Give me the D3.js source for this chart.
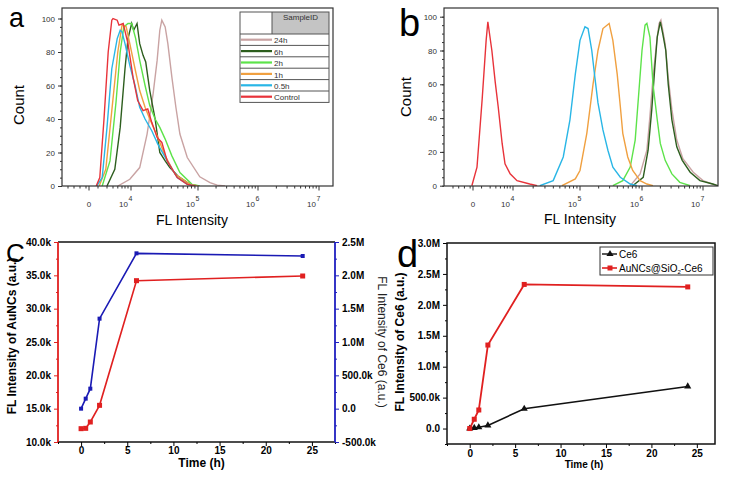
<!DOCTYPE html>
<html>
<head>
<meta charset="utf-8">
<script src="https://cdn.jsdelivr.net/npm/d3@7"></script>
<style>
body { margin: 0; background: #fff; }
svg text { font-family: "Liberation Sans", Arial, sans-serif; }
</style>
</head>
<body>
<script>
// ---- histogram data, panel a: [log10 intensity, count]
var aControl = [[3.42,0],[3.48,5],[3.55,40],[3.62,80],[3.68,99],[3.70,100],[3.77,99],[3.80,96],[3.87,97],[3.95,85],[4.03,65],[4.10,51],[4.18,45],[4.25,46],[4.31,38],[4.39,29],[4.46,26],[4.54,15],[4.69,5],[4.84,1],[4.96,0]];
var aHalf = [[3.43,0],[3.52,5],[3.60,35],[3.68,70],[3.77,88],[3.82,93],[3.85,92],[3.90,85],[3.98,72],[4.06,60],[4.13,47],[4.21,40],[4.31,33],[4.40,25],[4.54,15],[4.69,5],[4.84,1],[4.96,0]];
var aOne = [[3.47,0],[3.58,10],[3.68,45],[3.78,80],[3.85,96],[3.92,95],[3.98,85],[4.06,70],[4.13,57],[4.21,47],[4.28,40],[4.39,30],[4.51,18],[4.66,7],[4.88,1],[5.0,0]];
var aTwo = [[3.52,0],[3.65,15],[3.75,50],[3.82,80],[3.88,95],[3.95,97],[4.01,97],[4.07,88],[4.13,75],[4.21,60],[4.28,48],[4.36,40],[4.43,35],[4.51,28],[4.61,18],[4.73,8],[4.91,1],[5.03,0]];
var aSix = [[3.60,0],[3.73,10],[3.82,35],[3.90,70],[3.95,88],[4.01,97],[4.04,93],[4.09,97],[4.13,85],[4.18,78],[4.22,74],[4.28,57],[4.36,40],[4.43,20],[4.51,15],[4.58,11],[4.70,6],[4.88,1],[5.0,0]];
var aDay = [[3.78,0],[3.98,4],[4.13,11],[4.24,31],[4.33,55],[4.39,75],[4.43,93],[4.46,99],[4.51,95],[4.55,85],[4.61,65],[4.67,47],[4.73,31],[4.84,17],[5.03,5.5],[5.2,2],[5.32,0.5],[5.45,0]];

// ---- histogram data, panel b
var bControl = [[3.28,0],[3.37,11],[3.46,51],[3.53,86],[3.56,97],[3.63,80],[3.69,61],[3.74,47],[3.81,25],[3.86,13],[3.95,7],[4.06,3],[4.25,1],[4.36,0]];
var bHalf = [[4.40,0],[4.60,3],[4.75,17],[4.85,39],[4.93,66],[5.00,86],[5.08,94],[5.13,93],[5.19,80],[5.24,64],[5.29,49],[5.37,33],[5.45,21],[5.53,11],[5.65,5],[5.81,1],[5.92,0]];
var bOne = [[4.73,0],[4.93,4],[5.00,9],[5.11,31],[5.21,60],[5.29,80],[5.37,93],[5.47,96],[5.53,86],[5.60,66],[5.65,47],[5.69,31],[5.77,17],[5.85,9],[5.97,3],[6.08,1],[6.18,0]];
var bTwo = [[5.53,0],[5.69,3],[5.81,11],[5.89,27],[5.94,51],[6.00,80],[6.05,95],[6.08,96],[6.13,88],[6.18,60],[6.25,39],[6.30,25],[6.38,15],[6.49,7],[6.62,2],[6.79,0]];
var bSix = [[5.85,0],[6.02,5],[6.10,21],[6.16,45],[6.21,70],[6.25,88],[6.30,97],[6.34,90],[6.39,80],[6.43,60],[6.49,39],[6.57,23],[6.66,15],[6.79,8],[6.95,3],[7.16,1],[7.25,0]];
var bDay = [[5.81,0],[5.97,7],[6.08,21],[6.13,41],[6.18,64],[6.25,88],[6.28,96],[6.31,98],[6.38,84],[6.43,64],[6.49,45],[6.57,27],[6.67,16],[6.84,8],[7.00,3],[7.23,0]];

var sampleIds = ["24h", "6h", "2h", "1h", "0.5h", "Control"];
var sampleColors = ["#c9a3a3", "#2d5e1e", "#5de34a", "#f0a040", "#29b6e6", "#e8333a"];

// ---- time course data, panels c and d
var hours = [0, 0.5, 1, 2, 6, 24];
var auncsFL = [12000, 12050, 13000, 15500, 34200, 34900];
var ce6NanoFL = [0, 150000, 300000, 1350000, 2330000, 2290000];
var ce6FreeFL = [0, 10000, 20000, 50000, 320000, 680000];

var svg = d3.select("body").append("svg")
    .attr("width", 729).attr("height", 478);
svg.append("rect").attr("width", 729).attr("height", 478).attr("fill", "#fff");

var fmtK = function(v) {
    if (v === 0) return "0.0";
    if (Math.abs(v) >= 1e6) return (v / 1e6).toFixed(1) + "M";
    return (v / 1e3).toFixed(1) + "k";
};

// histogram panel
function histPanel(o) {
    var g = svg.append("g");
    var x = d3.scaleLinear().domain([3.3, 4, 5, 6, 7]).range(o.xr);
    var y = d3.scaleLinear().domain([0, 100]).range(o.yr);
    var L = o.box[0], R = o.box[1], T = o.box[2], B = o.box[3];

    g.append("clipPath").attr("id", o.id).append("rect")
        .attr("x", L).attr("y", T).attr("width", R - L).attr("height", B - T);

    var line = d3.line().x(function(d) { return x(d[0]); }).y(function(d) { return y(d[1]); });
    g.append("g").attr("clip-path", "url(#" + o.id + ")")
        .selectAll("path").data(o.curves).enter().append("path")
        .attr("d", function(d) { return line(d); })
        .attr("fill", "none")
        .attr("stroke", function(d, i) { return sampleColors[i]; })
        .attr("stroke-width", 1.4);

    g.append("rect").attr("x", L).attr("y", T).attr("width", R - L).attr("height", B - T)
        .attr("fill", "none").attr("stroke", "#333").attr("stroke-width", 1.2);

    // y axis
    var yAx = g.append("g").attr("transform", "translate(" + L + ",0)")
        .call(d3.axisLeft(y).tickValues(d3.range(0, 101, 20)).tickSize(4).tickPadding(3));
    g.append("g").attr("transform", "translate(" + L + ",0)")
        .call(d3.axisLeft(y).tickValues(d3.range(0, 101, 5)).tickSize(2).tickFormat(""));
    g.selectAll(".domain").remove();
    yAx.selectAll("text").attr("font-size", 8).attr("fill", "#333")
        .style("font-family", "Liberation Sans, Arial, sans-serif");
    g.selectAll(".tick line").attr("stroke", "#333");

    // x axis: minor ticks then labelled decades
    var minor = [2.95, 3.05, 3.15, 3.25, 3.45, 3.6, 3.7, 3.78, 3.85, 3.9, 3.95];
    [4, 5, 6].forEach(function(n) {
        d3.range(2, 10).forEach(function(k) { minor.push(n + Math.log10(k)); });
    });
    g.append("g").selectAll("line").data(minor).enter().append("line")
        .attr("x1", function(d) { return x(d); }).attr("x2", function(d) { return x(d); })
        .attr("y1", B).attr("y2", B + 2.5).attr("stroke", "#333");
    var major = [3.3, 4, 5, 6, 7];
    g.append("g").selectAll("line").data(major).enter().append("line")
        .attr("x1", function(d) { return x(d); }).attr("x2", function(d) { return x(d); })
        .attr("y1", B).attr("y2", B + 4.5).attr("stroke", "#333");

    g.append("text").attr("x", x(3.3)).attr("y", B + 21).attr("text-anchor", "middle")
        .attr("font-size", 8).attr("fill", "#333").text("0");
    var decades = major.slice(1);
    g.append("g").selectAll("text").data(decades).enter().append("text")
        .attr("x", function(d) { return x(d) - 3; }).attr("y", B + 21)
        .attr("text-anchor", "end").attr("font-size", 8).attr("fill", "#333")
        .text("10");
    g.append("g").selectAll("text").data(decades).enter().append("text")
        .attr("x", function(d) { return x(d) - 2.5; }).attr("y", B + 15)
        .attr("font-size", 7).attr("fill", "#333")
        .text(function(d) { return d; });

    g.append("text").attr("x", o.cx).attr("y", o.xTitleY).attr("text-anchor", "middle")
        .attr("font-size", 14).text("FL Intensity");
    g.append("text").attr("transform", "translate(" + o.yTitleX + "," + o.cy + ") rotate(-90)")
        .attr("text-anchor", "middle").attr("font-size", 15).text("Count");
    g.append("text").attr("x", o.letter[0]).attr("y", o.letter[1])
        .attr("font-size", o.letter[2]).text(o.letter[3]);
    return g;
}

histPanel({
    id: "clipA", xr: [89, 131, 198, 258, 319], yr: [186, 18.5],
    box: [62, 333, 8, 186],
    curves: [aDay, aSix, aTwo, aOne, aHalf, aControl],
    cx: 192, xTitleY: 225, yTitleX: 24, cy: 105,
    letter: [9, 27, 27, "a"]
});
histPanel({
    id: "clipB", xr: [473, 513, 580, 642, 703], yr: [185.7, 16.7],
    box: [444, 718, 8, 186],
    curves: [bDay, bSix, bTwo, bOne, bHalf, bControl],
    cx: 580, xTitleY: 224, yTitleX: 411, cy: 97,
    letter: [399, 36, 38, "b"]
});

// legend table for panel a
var tbl = svg.append("g");
var tL = 240, tM = 272, tR = 329, tT = 12, tH = 34, rowH = 11.4;
tbl.append("rect").attr("x", tM).attr("y", tT).attr("width", tR - tM).attr("height", tH - tT)
    .attr("fill", "#c4c4c4");
tbl.append("text").attr("x", (tM + tR) / 2).attr("y", tT + 8).attr("text-anchor", "middle")
    .attr("font-size", 8).attr("fill", "#333").text("SampleID");
tbl.append("rect").attr("x", tL).attr("y", tT).attr("width", tR - tL)
    .attr("height", tH - tT + rowH * sampleIds.length)
    .attr("fill", "none").attr("stroke", "#555");
tbl.append("line").attr("x1", tM).attr("x2", tM).attr("y1", tT).attr("y2", tH)
    .attr("stroke", "#555");
var rows = tbl.selectAll("g.row").data(sampleIds).enter().append("g")
    .attr("transform", function(d, i) { return "translate(0," + (tH + i * rowH) + ")"; });
rows.append("line").attr("x1", tL).attr("x2", tR).attr("y1", 0).attr("y2", 0)
    .attr("stroke", "#555");
rows.append("line").attr("x1", tL + 1).attr("x2", tM).attr("y1", rowH / 2).attr("y2", rowH / 2)
    .attr("stroke", function(d, i) { return sampleColors[i]; }).attr("stroke-width", 2.2);
rows.append("text").attr("x", tM + 2).attr("y", rowH - 2)
    .attr("font-size", 8).attr("fill", "#333").text(function(d) { return d; });

// panel c: dual axis
(function() {
    var L = 58, R = 335, T = 242, B = 442;
    var x = d3.scaleLinear().domain([-2.5, 27.5]).range([L, R]);
    var yL = d3.scaleLinear().domain([10000, 40000]).range([B, T]);
    var yR = d3.scaleLinear().domain([-500000, 2500000]).range([B, T]);
    var g = svg.append("g");

    g.append("line").attr("x1", L).attr("x2", R).attr("y1", T).attr("y2", T).attr("stroke", "#111").attr("stroke-width", 1.5);
    g.append("line").attr("x1", L).attr("x2", R).attr("y1", B).attr("y2", B).attr("stroke", "#111").attr("stroke-width", 1.5);

    g.append("g").attr("transform", "translate(0," + B + ")")
        .call(d3.axisBottom(x).tickValues(d3.range(0, 26, 5)).tickSize(4).tickPadding(1));
    g.append("g").attr("transform", "translate(0," + B + ")")
        .call(d3.axisBottom(x).tickValues(d3.range(-2.5, 27.6, 5)).tickSize(2).tickFormat(""));
    var al = g.append("g").attr("transform", "translate(" + L + ",0)")
        .call(d3.axisLeft(yL).tickValues(d3.range(10000, 40001, 5000)).tickSize(4).tickPadding(3).tickFormat(fmtK));
    g.append("g").attr("transform", "translate(" + L + ",0)")
        .call(d3.axisLeft(yL).tickValues(d3.range(12500, 40000, 5000)).tickSize(2).tickFormat(""))
        .selectAll("line").attr("stroke", "#e02020");
    var ar = g.append("g").attr("transform", "translate(" + R + ",0)")
        .call(d3.axisRight(yR).tickValues(d3.range(-500000, 2500001, 500000)).tickSize(4).tickPadding(3).tickFormat(fmtK));
    g.append("g").attr("transform", "translate(" + R + ",0)")
        .call(d3.axisRight(yR).tickValues(d3.range(-250000, 2500000, 500000)).tickSize(2).tickFormat(""))
        .selectAll("line").attr("stroke", "#2020c0");
    g.selectAll(".domain").remove();
    al.selectAll("line").attr("stroke", "#e02020");
    ar.selectAll("line").attr("stroke", "#2020c0");
    g.selectAll("text").attr("font-size", 10).attr("font-weight", "bold")
        .style("font-family", "Liberation Sans, Arial, sans-serif");
    g.append("line").attr("x1", L).attr("x2", L).attr("y1", T).attr("y2", B).attr("stroke", "#e02020").attr("stroke-width", 1.8);
    g.append("line").attr("x1", R).attr("x2", R).attr("y1", T).attr("y2", B).attr("stroke", "#2020c0").attr("stroke-width", 1.8);

    var lnL = d3.line().x(function(d, i) { return x(hours[i]); }).y(function(d) { return yL(d); });
    var lnR = d3.line().x(function(d, i) { return x(hours[i]); }).y(function(d) { return yR(d); });
    g.append("path").attr("d", lnR(ce6NanoFL)).attr("fill", "none").attr("stroke", "#1a1ab4").attr("stroke-width", 1.6);
    g.append("path").attr("d", lnL(auncsFL)).attr("fill", "none").attr("stroke", "#e02020").attr("stroke-width", 1.6);
    g.selectAll("rect.mb").data(ce6NanoFL).enter().append("rect").attr("class", "mb")
        .attr("x", function(d, i) { return x(hours[i]) - 2; }).attr("y", function(d) { return yR(d) - 2; })
        .attr("width", 4).attr("height", 4).attr("fill", "#1a1ab4");
    g.selectAll("rect.mr").data(auncsFL).enter().append("rect").attr("class", "mr")
        .attr("x", function(d, i) { return x(hours[i]) - 2.5; }).attr("y", function(d) { return yL(d) - 2.5; })
        .attr("width", 5).attr("height", 5).attr("fill", "#e02020");

    g.append("text").attr("x", (L + R) / 2 + 5).attr("y", 467).attr("text-anchor", "middle")
        .attr("font-size", 12).attr("font-weight", "bold").text("Time (h)");
    g.append("text").attr("transform", "translate(16,336) rotate(-90)").attr("text-anchor", "middle")
        .attr("font-size", 12).attr("font-weight", "bold").text("FL Intensity of AuNCs (a.u.)");
    g.append("text").attr("transform", "translate(378,342) rotate(90)").attr("text-anchor", "middle")
        .attr("font-size", 12).attr("fill", "#222").text("FL Intensity of Ce6 (a.u.)");
    g.append("text").attr("x", 6).attr("y", 262).attr("font-size", 26).text("C");
})();

// panel d
(function() {
    var L = 447, R = 715, T = 243, B = 444;
    var x = d3.scaleLinear().domain([-2.5, 27]).range([L, R]);
    var y = d3.scaleLinear().domain([-250000, 3000000]).range([B, T]);
    var g = svg.append("g");

    g.append("g").attr("transform", "translate(0," + B + ")")
        .call(d3.axisBottom(x).tickValues(d3.range(0, 26, 5)).tickSize(4).tickPadding(2));
    g.append("g").attr("transform", "translate(0," + B + ")")
        .call(d3.axisBottom(x).tickValues(d3.range(-2.5, 27, 5)).tickSize(2).tickFormat(""));
    g.append("g").attr("transform", "translate(" + L + ",0)")
        .call(d3.axisLeft(y).tickValues(d3.range(0, 3000001, 500000)).tickSize(4).tickPadding(3).tickFormat(fmtK));
    g.append("g").attr("transform", "translate(" + L + ",0)")
        .call(d3.axisLeft(y).tickValues(d3.range(-250000, 3000000, 500000)).tickSize(2).tickFormat(""));
    g.selectAll(".domain").remove();
    g.selectAll("text").attr("font-size", 10).attr("font-weight", "bold")
        .style("font-family", "Liberation Sans, Arial, sans-serif");
    g.append("rect").attr("x", L).attr("y", T).attr("width", R - L).attr("height", B - T)
        .attr("fill", "none").attr("stroke", "#111").attr("stroke-width", 1.5);

    var ln = d3.line().x(function(d, i) { return x(hours[i]); }).y(function(d) { return y(d); });
    g.append("path").attr("d", ln(ce6FreeFL)).attr("fill", "none").attr("stroke", "#111").attr("stroke-width", 1.6);
    g.append("path").attr("d", ln(ce6NanoFL)).attr("fill", "none").attr("stroke", "#e02020").attr("stroke-width", 1.8);
    var tri = d3.symbol().type(d3.symbolTriangle).size(22);
    g.selectAll("path.mt").data(ce6FreeFL).enter().append("path").attr("class", "mt")
        .attr("d", tri).attr("fill", "#111")
        .attr("transform", function(d, i) { return "translate(" + x(hours[i]) + "," + y(d) + ")"; });
    g.selectAll("rect.mr").data(ce6NanoFL).enter().append("rect").attr("class", "mr")
        .attr("x", function(d, i) { return x(hours[i]) - 2.5; }).attr("y", function(d) { return y(d) - 2.5; })
        .attr("width", 5).attr("height", 5).attr("fill", "#e02020");

    // legend
    var lg = g.append("g");
    lg.append("rect").attr("x", 600).attr("y", 247).attr("width", 113).attr("height", 28)
        .attr("fill", "#fff").attr("stroke", "#333");
    lg.append("line").attr("x1", 602).attr("x2", 617).attr("y1", 254).attr("y2", 254).attr("stroke", "#111").attr("stroke-width", 1.4);
    lg.append("path").attr("d", tri).attr("fill", "#111").attr("transform", "translate(610,254)");
    lg.append("text").attr("x", 619).attr("y", 257.5).attr("font-size", 10).text("Ce6");
    lg.append("line").attr("x1", 602).attr("x2", 617).attr("y1", 268).attr("y2", 268).attr("stroke", "#e02020").attr("stroke-width", 1.6);
    lg.append("rect").attr("x", 607.5).attr("y", 265.5).attr("width", 5).attr("height", 5).attr("fill", "#e02020");
    var t2 = lg.append("text").attr("x", 619).attr("y", 271.5).attr("font-size", 10);
    t2.append("tspan").text("AuNCs@SiO");
    t2.append("tspan").attr("font-size", 6).attr("dy", 2).text("2");
    t2.append("tspan").attr("dy", -2).text("-Ce6");

    g.append("text").attr("x", 584).attr("y", 468).attr("text-anchor", "middle")
        .attr("font-size", 10).attr("font-weight", "bold").text("Time (h)");
    g.append("text").attr("transform", "translate(404,342) rotate(-90)").attr("text-anchor", "middle")
        .attr("font-size", 12).attr("font-weight", "bold").text("FL Intensity of Ce6 (a.u.)");
    g.append("text").attr("x", 397).attr("y", 267).attr("font-size", 38).text("d");
})();
</script>
</body>
</html>
